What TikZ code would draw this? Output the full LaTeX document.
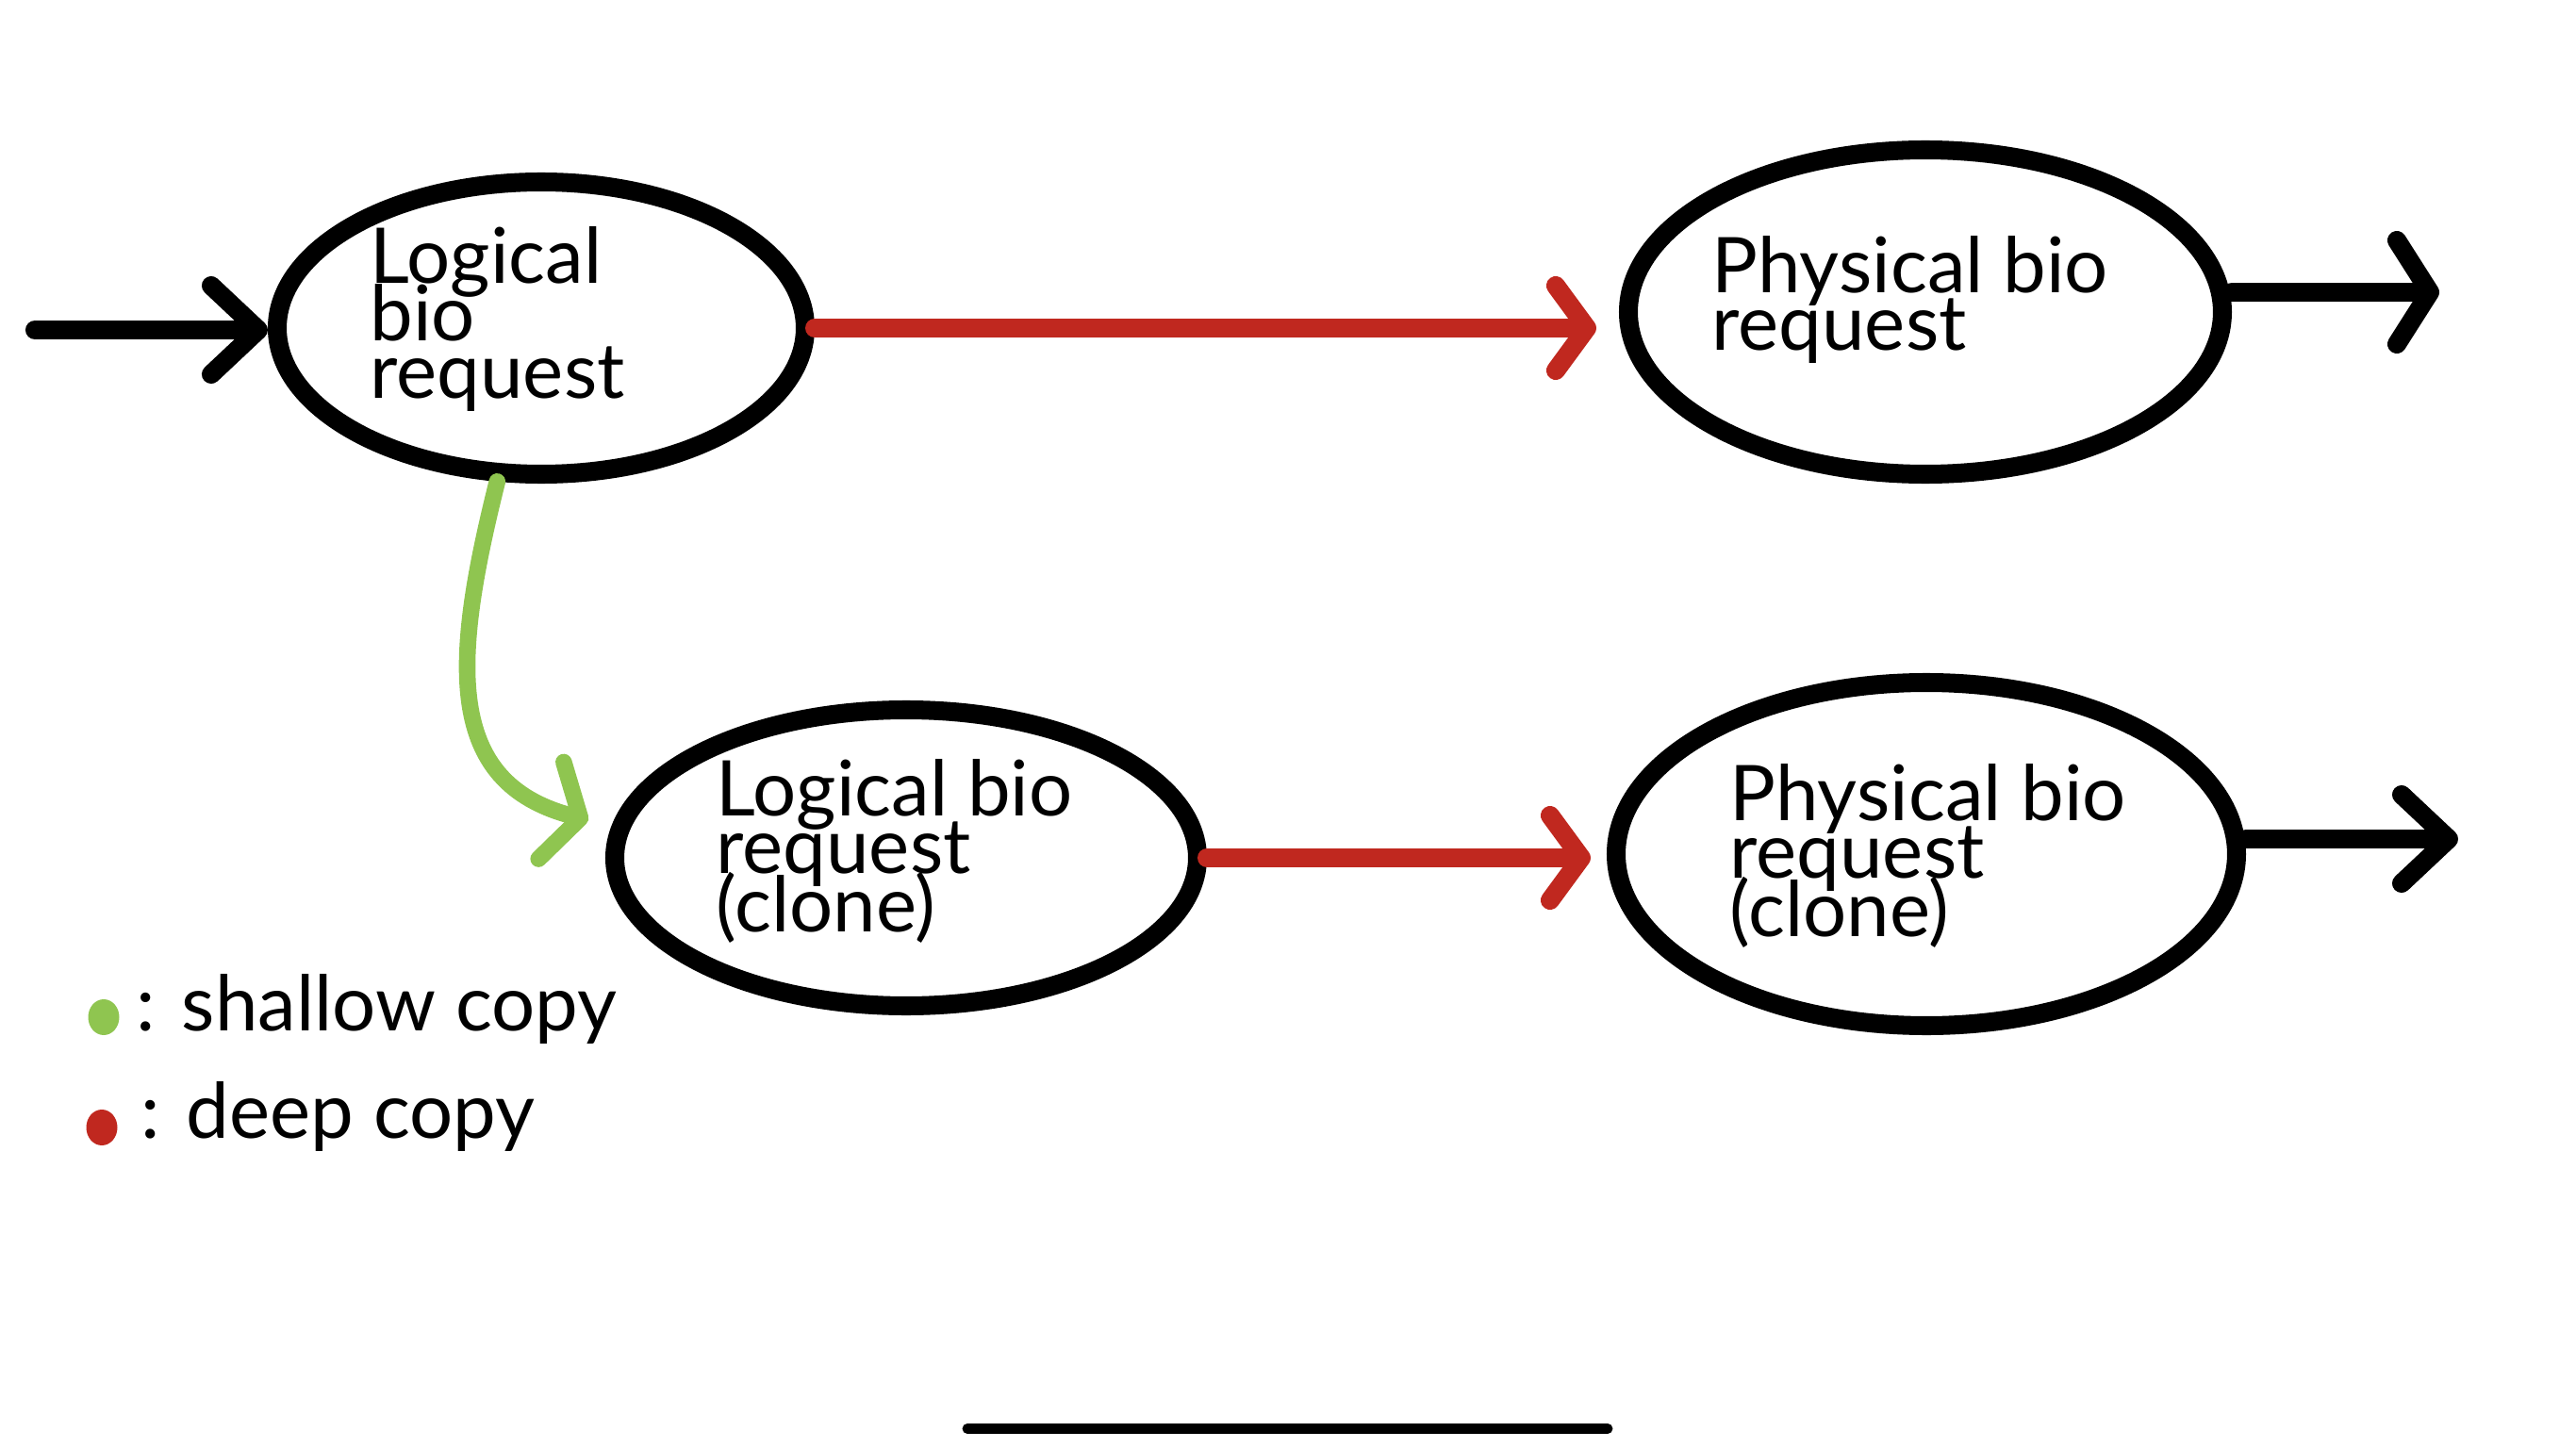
\documentclass[tikz,border=0pt]{standalone}
\usepackage{fontspec}
\setmainfont{Lato}
\usetikzlibrary{shapes.geometric,arrows.meta}
\definecolor{shallowgreen}{RGB}{143,197,80}
\definecolor{deepred}{RGB}{192,40,31}
\newcommand\reqfont{\fontsize{23.2pt}{17.4pt}\selectfont\lineskiplimit=-30pt\relax}

\begin{document}
\begin{tikzpicture}[
    request/.style={draw, ellipse, line width=5.7pt, inner sep=0pt},
    label/.style={anchor=base west, align=left, inner sep=0pt, font=\reqfont},
    flow/.style={line width=5.7pt, line cap=round, -{Straight Barb[length=5mm, width=9.4mm, round]}},
    deep/.style={flow, deepred, -{Straight Barb[length=3.3mm, width=9mm, round]}},
    shallow/.style={flow, shallowgreen, line width=5pt, -{Straight Barb[length=3.2mm, width=10.6mm, round]}},
    dot/.style={ellipse, inner sep=0pt, minimum width=0.33cm, minimum height=0.38cm}
  ]
    \useasboundingbox (0,0) rectangle (27.32,-15.36);

    % the four requests
    \node[request, minimum width=5.60cm, minimum height=3.10cm] (lreq) at (5.74,-3.48) {};
    \node[request, minimum width=6.30cm, minimum height=3.44cm] (preq) at (20.42,-3.31) {};
    \node[request, minimum width=6.18cm, minimum height=3.14cm] (lclone) at (9.61,-9.10) {};
    \node[request, minimum width=6.58cm, minimum height=3.64cm] (pclone) at (20.43,-9.06) {};

    \node[label] (lreq-txt) at (3.92,-4.23) {Logical\\bio\\request};
    \node[label] (preq-txt) at (18.15,-3.72) {Physical bio\\request};
    \node[label] (lclone-txt) at (7.59,-9.88) {Logical bio\\request\\(clone)};
    \node[label] (pclone-txt) at (18.34,-9.93) {Physical bio\\request\\(clone)};

    % arrows
    \coordinate (in) at (0.37,-3.50);
    \coordinate (pout) at (25.87,-3.10);
    \coordinate (cout) at (26.07,-8.90);
    \coordinate (gtip) at (6.24,-8.70);
    \draw[flow] (in) -- (in -| lreq.west);
    \draw[deep, shorten >=0.24cm] (lreq.east) -- (lreq.east -| preq.west);
    \draw[flow, -{Straight Barb[length=3.5mm, width=11mm, round]}] (preq.east |- pout) -- (pout);
    \draw[shallow] (lreq.254) .. controls (4.80,-7.00) and (4.70,-8.30) .. (gtip);
    \draw[deep, shorten >=0.17cm] (lclone.east) -- (lclone.east -| pclone.west);
    \draw[flow] (pclone.east |- cout) -- (cout);

    % legend
    \node[dot, fill=shallowgreen] (gdot) at (1.10,-10.79) {};
    \node[dot, fill=deepred] (rdot) at (1.08,-11.96) {};
    \node[label] (gtxt) at (1.44,-10.93) {: shallow copy};
    \node[label] (rtxt) at (1.49,-12.07) {: deep copy};

    \draw[line width=3.1pt, line cap=round] (10.26,-15.155) -- (17.05,-15.155);
\end{tikzpicture}
\end{document}
